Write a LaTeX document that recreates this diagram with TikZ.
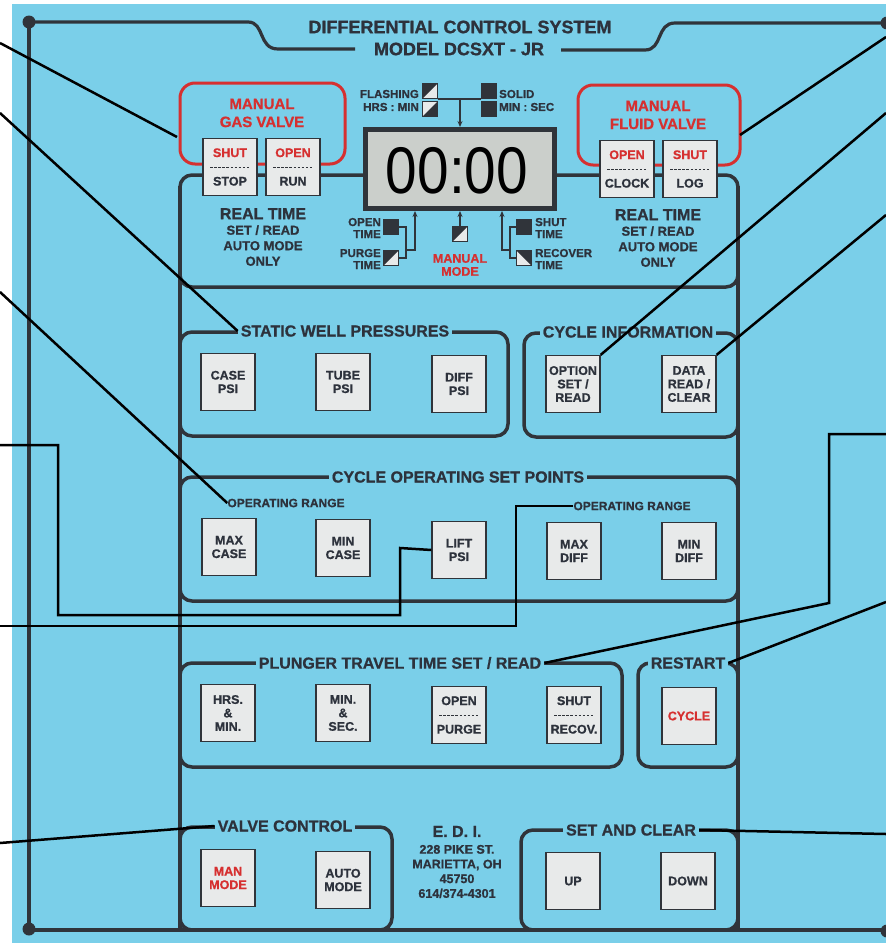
\documentclass[tikz,border=0pt]{standalone}
\usepackage{fontspec}
\setmainfont{Liberation Sans}[BoldFeatures={FakeBold=0.9}]
\usetikzlibrary{arrows.meta}
\definecolor{panel}{RGB}{122,207,233}
\definecolor{frame}{RGB}{48,52,58}
\definecolor{redc}{RGB}{214,48,48}
\definecolor{btnfill}{RGB}{232,234,234}
\definecolor{lcdc}{RGB}{203,207,203}
\definecolor{txt}{RGB}{45,50,60}
\tikzset{
  frameline/.style={draw=frame, line width=3.2pt},
  box/.style={draw=frame, line width=3.5pt, rounded corners=12pt},
  redbox/.style={draw=redc, line width=3pt, rounded corners=15pt},
  btn/.style={draw=frame, line width=1.3pt, fill=btnfill, minimum width=54pt, minimum height=57pt, inner sep=0pt, align=center, text=txt, font=\bfseries\fontsize{12.5}{13.5}\selectfont},
  ttl/.style={fill=panel, inner xsep=3pt, inner ysep=1pt, text=txt, font=\bfseries\fontsize{16}{18}\selectfont},
  sml/.style={text=txt, font=\bfseries\fontsize{11.5}{12}\selectfont, inner sep=0pt},
  mid/.style={text=txt, font=\bfseries\fontsize{13}{15.5}\selectfont, inner sep=0pt, align=center},
  redt/.style={text=redc, font=\bfseries\fontsize{15}{18}\selectfont, inner sep=0pt, align=center},
  leader/.style={draw=black, line width=2.5pt},
  thinl/.style={draw=frame, line width=1.4pt},
  sepdash/.style={draw=frame, line width=0.9pt, dash pattern=on 2.5pt off 1.6pt},
  dot/.style={circle, fill=frame, minimum size=13pt, inner sep=0pt},
  icon/.style={draw=frame, line width=0.8pt, fill=btnfill, minimum size=15pt, inner sep=0pt},
  iconfull/.style={draw=frame, line width=0.8pt, fill=frame, minimum size=15pt, inner sep=0pt}
}
\begin{document}
\begin{tikzpicture}[x=1pt,y=-1pt]
\useasboundingbox (0,0) rectangle (886,943);
\fill[white] (0,0) rectangle (886,943);
\fill[panel] (12,4) rectangle (886,943);

% ---------- outer frame ----------
\draw[frameline] (29,22) -- (248,22) .. controls (265,22) and (258,49) .. (278,49) -- (355,49);
\draw[frameline] (561,50) -- (645,50) .. controls (663,50) and (656,23) .. (675,23) -- (887,23);
\draw[frameline] (29,22) -- (29,930) -- (887,930) -- (891,930) -- (891,23) -- (887,23);
\node[dot] (dtl) at (29,22) {};
\node[dot] (dtr) at (887,23) {};
\node[dot] (dbl) at (29,929) {};
\node[dot] (dbr) at (887,931) {};
\node[text=txt, font=\bfseries\fontsize{18}{20}\selectfont, inner sep=0pt] (t1) at (460,27) {DIFFERENTIAL CONTROL SYSTEM};
\node[text=txt, font=\bfseries\fontsize{18}{20}\selectfont, inner sep=0pt] (t2) at (459,49) {MODEL DCSXT - JR};

% ---------- inner verticals ----------
\draw[draw=frame, line width=3.5pt] (180,186) -- (180,930);
\draw[draw=frame, line width=3.5pt] (738,186) -- (738,930);

% ---------- red valve boxes ----------
\draw[redbox] (180,83) rectangle (345,164);
\draw[redbox] (578,85) rectangle (740,165);
\node[redt] (gasv) at (262,113) {MANUAL\\GAS VALVE};
\node[redt] (fluidv) at (658,115) {MANUAL\\FLUID VALVE};

% ---------- real time box ----------
\draw[box] (180,175) rectangle (738,287);

% display
\node[draw=frame, line width=5pt, fill=lcdc, minimum width=189pt, minimum height=79pt, inner sep=0pt] (lcd) at (460,169) {};
\node[text=black, font=\fontsize{66}{66}\selectfont, inner sep=0pt] (digits) at (457,171) {\scalebox{0.86}[1]{00:00}};

% buttons top
\node[btn] (stop) at (230,167) {{\color{redc}SHUT}\\[15pt]STOP};
\node[btn] (run) at (293,167) {{\color{redc}OPEN}\\[15pt]RUN};
\node[btn] (clock) at (627,169) {{\color{redc}OPEN}\\[15pt]CLOCK};
\node[btn] (logb) at (690,169) {{\color{redc}SHUT}\\[15pt]LOG};
\foreach \b in {stop,run,clock,logb}{
  \draw[sepdash] ([xshift=-20pt]\b.center) -- ([xshift=20pt]\b.center);
}

\node[mid] (rtl) at (263,237) {{\fontsize{16}{18}\selectfont REAL TIME}\\SET / READ\\AUTO MODE\\ONLY};
\node[mid] (rtr) at (658,238) {{\fontsize{16}{18}\selectfont REAL TIME}\\SET / READ\\AUTO MODE\\ONLY};

% indicator icons above display
\node[icon] (ifl1) at (430,91) {};
\fill[frame] (ifl1.north west) -- (ifl1.north east) -- (ifl1.south west) -- cycle;
\node[icon] (ifl2) at (430,109) {};
\fill[frame] (ifl2.south east) -- (ifl2.north east) -- (ifl2.south west) -- cycle;
\node[iconfull] (isl1) at (489,91) {};
\node[iconfull] (isl2) at (489,109) {};
\node[sml, anchor=east] (lfl) at (419,94) {FLASHING};
\node[sml, anchor=east] (lhm) at (419,107) {HRS : MIN};
\node[sml, anchor=west] (lso) at (499,94) {SOLID};
\node[sml, anchor=west] (lms) at (499,107) {MIN : SEC};
\coordinate (topj) at (460,100);
\draw[thinl] (ifl1.south east) -- (isl1.south west);
\draw[thinl, -{Stealth[length=6pt,width=5pt]}] (topj) -- (lcd.north);

% indicators below display
\node[iconfull] (iop) at (391,227) {};
\node[icon] (ipu) at (391,258) {};
\fill[frame] (ipu.north west) -- (ipu.north east) -- (ipu.south west) -- cycle;
\node[sml, anchor=east, align=right] (lop) at (381,228) {OPEN\\TIME};
\node[sml, anchor=east, align=right] (lpu) at (381,259) {PURGE\\TIME};
\coordinate (bl1) at (406,227);
\coordinate (bl2) at (406,258);
\coordinate (bl3) at (415,250);
\draw[thinl] (iop.east) -- (bl1) -- (bl2) -- (ipu.east);
\draw[thinl, -{Stealth[length=6pt,width=5pt]}] (bl2 |- bl3) -- (bl3) -- (bl3 |- lcd.south);

\node[icon] (iman) at (460,234) {};
\fill[frame] (iman.north west) -- (iman.north east) -- (iman.south west) -- cycle;
\draw[thinl, -{Stealth[length=6pt,width=5pt]}] (iman.north) -- (iman.north |- lcd.south);
\node[text=redc, font=\bfseries\fontsize{12.5}{13}\selectfont, inner sep=0pt, align=center] (lman) at (460,265) {MANUAL\\MODE};

\node[iconfull] (ish) at (524,227) {};
\node[icon] (ire) at (524,258) {};
\fill[frame] (ire.north west) -- (ire.north east) -- (ire.south east) -- cycle;
\node[sml, anchor=west, align=left] (lsh) at (535,228) {SHUT\\TIME};
\node[sml, anchor=west, align=left] (lre) at (535,259) {RECOVER\\TIME};
\coordinate (br1) at (510,227);
\coordinate (br2) at (510,258);
\coordinate (br3) at (502,250);
\draw[thinl] (ish.west) -- (br1) -- (br2) -- (ire.west);
\draw[thinl, -{Stealth[length=6pt,width=5pt]}] (br2 |- br3) -- (br3) -- (br3 |- lcd.south);

% ---------- static well pressures ----------
\draw[box] (180,332) rectangle (508,436);
\node[ttl] (tsw) at (345,331) {STATIC WELL PRESSURES};
\node[btn] (case) at (228,382) {CASE\\PSI};
\node[btn] (tube) at (343,382) {TUBE\\PSI};
\node[btn] (diffp) at (459,384) {DIFF\\PSI};

% ---------- cycle information ----------
\draw[box] (524,333) rectangle (738,437);
\node[ttl] (tci) at (628,332) {CYCLE INFORMATION};
\node[btn] (option) at (573,384) {OPTION\\SET /\\READ};
\node[btn] (data) at (689,384) {DATA\\READ /\\CLEAR};

% ---------- cycle operating set points ----------
\draw[box] (180,477) rectangle (738,601);
\node[ttl] (tco) at (458,477) {CYCLE OPERATING SET POINTS};
\node[sml, font=\bfseries\fontsize{12}{13}\selectfont] (or1) at (286,503) {OPERATING RANGE};
\node[sml, font=\bfseries\fontsize{12}{13}\selectfont] (or2) at (632,506) {OPERATING RANGE};
\node[btn] (maxcase) at (229,547) {MAX\\CASE};
\node[btn] (mincase) at (343,548) {MIN\\CASE};
\node[btn] (lift) at (459,550) {LIFT\\PSI};
\node[btn] (maxdiff) at (574,551) {MAX\\DIFF};
\node[btn] (mindiff) at (689,551) {MIN\\DIFF};

% ---------- plunger travel ----------
\draw[box] (180,663) rectangle (622,767);
\node[ttl] (tpl) at (400,663) {PLUNGER TRAVEL TIME SET / READ};
\node[btn] (hrs) at (228,713) {HRS.\\\&\\MIN.};
\node[btn] (minsec) at (343,713) {MIN.\\\&\\SEC.};
\node[btn] (openp) at (459,715) {OPEN\\[15pt]PURGE};
\node[btn] (shutr) at (574,715) {SHUT\\[15pt]RECOV.};
\foreach \b in {openp,shutr}{
  \draw[sepdash] ([xshift=-20pt]\b.center) -- ([xshift=20pt]\b.center);
}

% ---------- restart ----------
\draw[box] (638,663) rectangle (738,767);
\node[ttl] (trs) at (688,663) {RESTART};
\node[btn, text=redc] (cycle) at (689,716) {CYCLE};

% ---------- valve control ----------
\draw[box] (180,827) rectangle (392,930);
\node[ttl] (tvc) at (285,826) {VALVE CONTROL};
\node[btn, text=redc] (manm) at (228,878) {MAN\\MODE};
\node[btn] (autom) at (343,880) {AUTO\\MODE};

% ---------- address ----------
\node[mid, font=\bfseries\fontsize{12.5}{14.7}\selectfont] (edi) at (457,862) {{\fontsize{16}{18}\selectfont E. D. I.}\\[2pt]228 PIKE ST.\\MARIETTA, OH\\45750\\614/374-4301};

% ---------- set and clear ----------
\draw[box] (521,830) rectangle (738,930);
\node[ttl] (tsc) at (631,830) {SET AND CLEAR};
\node[btn] (up) at (573,881) {UP};
\node[btn] (down) at (688,881) {DOWN};

% ---------- leader lines ----------
\coordinate (a1) at (0,43);
\coordinate (a2) at (0,113);
\coordinate (a3) at (0,292);
\coordinate (a4) at (0,445);
\coordinate (a5) at (0,626);
\coordinate (a6) at (0,843);
\coordinate (b1) at (886,37);
\coordinate (b2) at (886,113);
\coordinate (b3) at (886,215);
\coordinate (b4) at (886,434);
\coordinate (b5) at (886,602);
\coordinate (b6) at (886,834);
\draw[leader] (a1) -- (177,137);
\draw[leader] (a2) -- (tsw.west);
\draw[leader] (a3) -- (or1.west);
\draw[leader] (a4) -- (58,445) -- (58,615) -- (400,615) -- (400,548) -- (lift.west);
\draw[leader] (a5) -- (516,626) -- (516,506) -- (or2.west);
\draw[leader] (a6) -- (tvc.west);
\draw[leader] (b1) -- (740,135);
\draw[leader] (b2) -- (option.north east);
\draw[leader] (b3) -- (data.north east);
\draw[leader, line join=miter] (b4) -- (829,434) -- (829,603) -- (tpl.east);
\draw[leader] (b5) -- (trs.east);
\draw[leader] (b6) -- (tsc.east);
\end{tikzpicture}
\end{document}
